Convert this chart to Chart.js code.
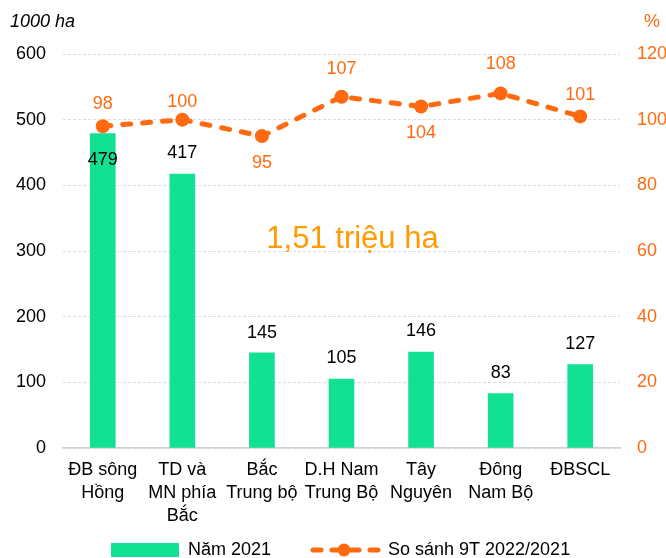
<!DOCTYPE html>
<html><head><meta charset="utf-8">
<script src="https://cdn.jsdelivr.net/npm/chart.js@4"></script>
<style>html,body{margin:0;padding:0;background:#fff;overflow:hidden}</style>
</head><body>
<canvas id="c" width="666" height="558" style="width:666px;height:558px;display:block"></canvas>
<script>
const categories = [["ĐB sông","Hồng"],["TD và","MN phía","Bắc"],["Bắc","Trung bộ"],["D.H Nam","Trung Bộ"],["Tây","Nguyên"],["Đông","Nam Bộ"],["ĐBSCL"]];
const area2021 = [479, 417, 145, 105, 146, 83, 127];
const compare = [98, 100, 95, 107, 104, 108, 101];
const leftTicks = [0, 100, 200, 300, 400, 500, 600];
const rightTicks = [0, 20, 40, 60, 80, 100, 120];
const seriesNames = ["Năm 2021", "So sánh 9T 2022/2021"];
const leftUnit = "1000 ha";
const rightUnit = "%";
const noteText = "1,51 triệu ha";

const GREEN = '#12E193';
const ORANGE = '#FF6A10';
const NOTE = '#FF9A00';
const FONT = '"Liberation Sans", Arial, sans-serif';

// label placement (style): offsets in px from mark top
const barLabelOffset = [27, -21, -20, -21, -21, -20, -21];
const lineLabelOffset = [-22, -18, 27, -28, 26, -29, -21];

const overlay = {
  id: 'overlay',
  afterDatasetsDraw(chart) {
    const ctx = chart.ctx;
    const bars = chart.getDatasetMeta(0).data;
    const pts = chart.getDatasetMeta(1).data;
    ctx.save();
    ctx.textAlign = 'center';
    ctx.textBaseline = 'middle';
    ctx.font = '18px ' + FONT;
    ctx.fillStyle = '#000';
    bars.forEach((b, i) => ctx.fillText(String(area2021[i]), b.x, b.y + barLabelOffset[i]));
    ctx.fillStyle = ORANGE;
    pts.forEach((p, i) => ctx.fillText(String(compare[i]), p.x, p.y + lineLabelOffset[i]));
    // note
    const xs = chart.scales.x, ys = chart.scales.y;
    ctx.font = '31px ' + FONT;
    ctx.fillStyle = NOTE;
    ctx.fillText(noteText, xs.getPixelForValue(3) + 11, ys.getPixelForValue(317));
    // units
    ctx.font = 'italic 18px ' + FONT;
    ctx.fillStyle = '#000';
    ctx.textAlign = 'left';
    ctx.fillText(leftUnit, 10, 22);
    ctx.font = '18px ' + FONT;
    ctx.fillStyle = ORANGE;
    ctx.textAlign = 'center';
    ctx.fillText(rightUnit, 652, 22);
    // legend
    const ly = 550;
    ctx.fillStyle = GREEN;
    ctx.fillRect(111, ly - 7, 68, 14);
    ctx.font = '18px ' + FONT;
    ctx.fillStyle = '#000';
    ctx.textAlign = 'left';
    ctx.fillText(seriesNames[0], 188, ly);
    ctx.strokeStyle = ORANGE;
    ctx.lineWidth = 5;
    ctx.lineCap = 'round';
    ctx.setLineDash([8, 11]);
    ctx.beginPath(); ctx.moveTo(313, ly); ctx.lineTo(378, ly); ctx.stroke();
    ctx.setLineDash([]);
    ctx.fillStyle = ORANGE;
    ctx.beginPath(); ctx.arc(344, ly, 6.5, 0, Math.PI * 2); ctx.fill();
    ctx.fillStyle = '#000';
    ctx.fillText(seriesNames[1], 388, ly);
    ctx.restore();
  }
};

new Chart(document.getElementById('c'), {
  data: {
    labels: categories,
    datasets: [
      { type: 'bar', label: seriesNames[0], data: area2021, backgroundColor: GREEN, barThickness: 25, yAxisID: 'y', order: 1 },
      { type: 'line', label: seriesNames[1], data: compare, borderColor: ORANGE, backgroundColor: ORANGE,
        borderWidth: 5, borderDash: [8, 12], borderCapStyle: 'round', pointRadius: 7, pointBackgroundColor: ORANGE, pointBorderWidth: 0,
        tension: 0, yAxisID: 'y1', order: 0 }
    ]
  },
  options: {
    responsive: false,
    animation: false,
    layout: { padding: { top: 54, left: 0, right: 0, bottom: 0 } },
    plugins: { legend: { display: false }, tooltip: { enabled: false }, title: { display: false } },
    scales: {
      x: {
        grid: { display: false, drawTicks: false },
        border: { display: true, color: '#D0D0D0', width: 1.5 },
        ticks: { color: '#000', font: { size: 18, family: FONT, lineHeight: 1.27 }, padding: 11, maxRotation: 0, autoSkip: false },
        afterFit(s) { s.height = 110; }
      },
      y: {
        position: 'left', min: 0, max: 600,
        afterBuildTicks(s) { s.ticks = leftTicks.map(v => ({ value: v })); },
        grid: { color: '#DDDDDD', drawTicks: false, lineWidth: 1 },
        border: { display: false, dash: [3, 2] },
        ticks: { color: '#000', font: { size: 18, family: FONT }, padding: 17 },
        afterFit(s) { s.width = 63; }
      },
      y1: {
        position: 'right', min: 0, max: 120,
        afterBuildTicks(s) { s.ticks = rightTicks.map(v => ({ value: v })); },
        grid: { display: false, drawTicks: false },
        border: { display: false },
        ticks: { color: ORANGE, font: { size: 18, family: FONT }, padding: 17 },
        afterFit(s) { s.width = 46; }
      }
    }
  },
  plugins: [overlay]
});
</script>
</body></html>
